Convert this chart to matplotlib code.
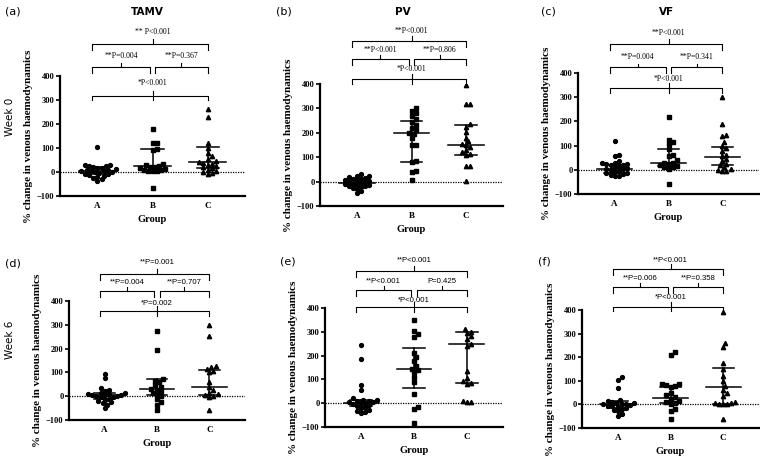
import numpy as np
import matplotlib
matplotlib.use('Agg')
import matplotlib.pyplot as plt

# Data (% change in venous haemodynamics)
groups = ['A', 'B', 'C']

tamv_w0_a = [105, 30, 28, 25, 25, 20, 18, 15, 12, 10, 8, 5, 5, 3, 0, -2, -5, -8, -10, -12, -15, -20, -25, -30, -38]
tamv_w0_b = [180, 122, 120, 95, 90, 35, 30, 25, 22, 20, 15, 12, 10, 8, 5, 5, 3, -65]
tamv_w0_c = [262, 230, 122, 100, 80, 65, 55, 45, 42, 38, 35, 30, 25, 20, 15, 10, 5, 0, -5, -8]
tamv_w0_med = [5, 26, 42]
tamv_w0_q1 = [-10, 8, 15]
tamv_w0_q3 = [20, 96, 104]

pv_w0_a = [30, 25, 22, 20, 15, 12, 10, 8, 5, 3, 0, -2, -5, -8, -10, -12, -15, -18, -20, -22, -25, -30, -40, -48]
pv_w0_b = [300, 290, 280, 268, 255, 245, 232, 220, 210, 200, 195, 180, 150, 150, 85, 80, 45, 40, 5]
pv_w0_c = [395, 320, 318, 235, 222, 205, 180, 165, 155, 150, 140, 130, 120, 112, 108, 65, 65, 2]
pv_w0_med = [-5, 201, 151]
pv_w0_q1 = [-20, 81, 111]
pv_w0_q3 = [10, 247, 234]

vf_w0_a = [120, 60, 55, 35, 30, 28, 25, 22, 20, 18, 15, 12, 8, 5, 2, 0, -5, -8, -12, -15, -18, -20, -25, -25]
vf_w0_b = [220, 125, 115, 105, 85, 60, 55, 40, 30, 28, 25, 20, 15, 12, 10, 5, -60]
vf_w0_c = [300, 190, 145, 140, 115, 100, 92, 78, 62, 55, 45, 35, 25, 20, 10, 5, 0, -5, -5]
vf_w0_med = [5, 28, 53]
vf_w0_q1 = [-15, 15, 20]
vf_w0_q3 = [20, 85, 95]

tamv_w6_a = [95, 75, 35, 28, 22, 15, 12, 10, 8, 5, 5, 3, 0, 0, -3, -5, -10, -15, -20, -25, -30, -35, -50]
tamv_w6_b = [275, 195, 72, 65, 58, 45, 40, 32, 28, 22, 15, 10, 2, -10, -25, -35, -58]
tamv_w6_c = [300, 255, 125, 122, 115, 105, 100, 60, 40, 28, 15, 10, 5, 0, -5, -60]
tamv_w6_med = [5, 29, 38]
tamv_w6_q1 = [-10, 5, 3]
tamv_w6_q3 = [15, 72, 108]

pv_w6_a = [245, 185, 75, 55, 20, 15, 12, 10, 8, 5, 3, 0, 0, -5, -8, -12, -18, -22, -28, -32, -38, -42]
pv_w6_b = [350, 305, 290, 280, 210, 195, 178, 155, 145, 140, 130, 112, 90, 40, -15, -25, -85]
pv_w6_c = [312, 300, 295, 282, 270, 250, 240, 135, 105, 92, 86, 80, 8, 5, 5]
pv_w6_med = [0, 145, 248]
pv_w6_q1 = [-10, 62, 83]
pv_w6_q3 = [15, 234, 298]

vf_w6_a = [115, 105, 70, 20, 15, 12, 8, 5, 3, 0, 0, -3, -5, -8, -12, -15, -20, -25, -30, -42, -50]
vf_w6_b = [220, 210, 85, 85, 82, 80, 75, 50, 40, 30, 25, 15, 10, 5, 0, -20, -30, -60]
vf_w6_c = [390, 262, 245, 175, 148, 120, 100, 78, 62, 48, 35, 10, 5, 5, 0, 0, 2, -60]
vf_w6_med = [0, 28, 73]
vf_w6_q1 = [-15, 5, 0]
vf_w6_q3 = [15, 75, 154]

# p-value labels: [A vs C (top), A vs B, B vs C, overall]
p_tamv_w0 = ['** P<0.001', '**P=0.004', '**P=0.367', '*P<0.001']
p_pv_w0 = ['**P<0.001', '**P<0.001', '**P=0.806', '*P<0.001']
p_vf_w0 = ['**P<0.001', '**P=0.004', '**P=0.341', '*P<0.001']
p_tamv_w6 = ['**P=0.001', '**P=0.004', '**P=0.707', '*P=0.002']
p_pv_w6 = ['**P<0.001', '**P<0.001', 'P=0.425', '*P<0.001']
p_vf_w6 = ['**P<0.001', '**P=0.006', '**P=0.358', '*P<0.001']

W, H = 760, 459
SERIF = 'Liberation Serif'
SANS = 'Liberation Sans'

# panel setup: axes rect in px (left, top, right, bottom), bracket levels, font for p text
panels = [
    dict(lab='(a)', title='TAMV', data=(tamv_w0_a, tamv_w0_b, tamv_w0_c), med=tamv_w0_med, q1=tamv_w0_q1, q3=tamv_w0_q3,
         p=p_tamv_w0, rect=(60, 76, 245, 196), lines=(532, 439, 318), texts=(580, 478, 367), pfont=SERIF,
         labpos=(5, 12), titlepos=(147, 12)),
    dict(lab='(b)', title='PV', data=(pv_w0_a, pv_w0_b, pv_w0_c), med=pv_w0_med, q1=pv_w0_q1, q3=pv_w0_q3,
         p=p_pv_w0, rect=(320, 84, 503, 206), lines=(575, 503, 422), texts=(612, 534, 459), pfont=SERIF,
         labpos=(276, 12), titlepos=(403, 12)),
    dict(lab='(c)', title='VF', data=(vf_w0_a, vf_w0_b, vf_w0_c), med=vf_w0_med, q1=vf_w0_q1, q3=vf_w0_q3,
         p=p_vf_w0, rect=(578, 73, 759, 194), lines=(520, 423, 339), texts=(561, 461, 369), pfont=SERIF,
         labpos=(541, 12), titlepos=(667, 12)),
    dict(lab='(d)', title=None, data=(tamv_w6_a, tamv_w6_b, tamv_w6_c), med=tamv_w6_med, q1=tamv_w6_q1, q3=tamv_w6_q3,
         p=p_tamv_w6, rect=(69, 301, 245, 420), lines=(513, 442, 359), texts=(559, 476, 387), pfont=SANS,
         labpos=(5, 263), titlepos=None),
    dict(lab='(e)', title=None, data=(pv_w6_a, pv_w6_b, pv_w6_c), med=pv_w6_med, q1=pv_w6_q1, q3=pv_w6_q3,
         p=p_pv_w6, rect=(325, 308, 503, 427), lines=(555, 477, 404), texts=(597, 508, 428), pfont=SANS,
         labpos=(280, 262), titlepos=None),
    dict(lab='(f)', title=None, data=(vf_w6_a, vf_w6_b, vf_w6_c), med=vf_w6_med, q1=vf_w6_q1, q3=vf_w6_q3,
         p=p_vf_w6, rect=(582, 310, 759, 428), lines=(574, 499, 414), texts=(606, 530, 450), pfont=SANS,
         labpos=(538, 262), titlepos=None),
]

markers = ['o', 's', '^']
XLIM = (0.32, 3.68)
YLIM = (-100, 400)


def swarm(vals, sx, sy, d):
    # simple beeswarm: place points, sorted by value, at the nearest free x offset
    vals = np.asarray(vals, float)
    offs = np.zeros(len(vals))
    placed = []
    for i in np.argsort(vals):
        y = vals[i] * sy
        k = 0
        while True:
            step = (k + 1) // 2 * (1 if k % 2 else -1) * d * 0.5
            ok = all((step - px) ** 2 + (y - py) ** 2 >= d ** 2 for px, py in placed)
            if ok:
                break
            k += 1
        placed.append((step, y))
        offs[i] = step / sx
    return offs


fig = plt.figure(figsize=(W / 100, H / 100), dpi=100)

for p in panels:
    l, t, r, b = p['rect']
    ax = fig.add_axes([l / W, 1 - b / H, (r - l) / W, (b - t) / H])
    ax.set_xlim(*XLIM)
    ax.set_ylim(*YLIM)
    sx = (r - l) / (XLIM[1] - XLIM[0])
    sy = (b - t) / (YLIM[1] - YLIM[0])

    ax.axhline(0, color='black', lw=0.9, ls=(0, (1, 1)), zorder=1)

    for gi, vals in enumerate(p['data']):
        x = gi + 1
        xs = x + swarm(vals, sx, sy, 4.1)
        ax.plot(xs, vals, ls='none', marker=markers[gi], ms=2.8 if gi < 2 else 3.1,
                color='black', mec='black', zorder=3)
        # median and interquartile range
        ax.plot([x - 0.33, x + 0.33], [p['med'][gi]] * 2, color='black', lw=1.1, zorder=4)
        ax.plot([x, x], [p['q1'][gi], p['q3'][gi]], color='black', lw=1.1, zorder=4)
        ax.plot([x - 0.2, x + 0.2], [p['q1'][gi]] * 2, color='black', lw=1.1, zorder=4)
        ax.plot([x - 0.2, x + 0.2], [p['q3'][gi]] * 2, color='black', lw=1.1, zorder=4)

    # significance brackets
    top, mid, low = p['lines']
    ttop, tmid, tlow = p['texts']
    kw = dict(color='black', lw=0.8, clip_on=False)
    ax.plot([0.91, 0.91, 3, 3], [top - 25, top, top, top - 25], **kw)
    ax.plot([2, 2], [top, top + 22], **kw)
    ax.plot([0.91, 0.91, 1.95, 1.95], [mid - 25, mid, mid, mid - 25], **kw)
    ax.plot([1.43, 1.43], [mid, mid + 15], **kw)
    ax.plot([2.05, 2.05, 3, 3], [mid - 25, mid, mid, mid - 25], **kw)
    ax.plot([2.52, 2.52], [mid, mid + 15], **kw)
    ax.plot([0.91, 0.91, 3, 3], [low - 20, low, low, low - 20], **kw)
    ax.plot([2, 2], [low - 20, low + 20], **kw)

    tk = dict(ha='center', va='bottom', fontsize=5.6, family=p['pfont'], clip_on=False)
    ax.text(2, ttop - 12, p['p'][0], **tk)
    ax.text(1.43, tmid - 12, p['p'][1], **tk)
    ax.text(2.52, tmid - 12, p['p'][2], **tk)
    ax.text(2, tlow - 12, p['p'][3], **tk)

    # axes styling
    for s in ['top', 'right']:
        ax.spines[s].set_visible(False)
    ax.spines['left'].set_linewidth(1.6)
    ax.spines['bottom'].set_linewidth(1.6)
    ax.set_yticks([-100, 0, 100, 200, 300, 400])
    ax.set_xticks([1, 2, 3])
    ax.set_xticklabels(groups)
    ax.tick_params(axis='y', length=3, width=1.2, pad=1, labelsize=6)
    ax.tick_params(axis='x', length=0, pad=4, labelsize=6.5)
    for tl in ax.get_xticklabels() + ax.get_yticklabels():
        tl.set_family(SERIF)
        tl.set_fontweight('bold')
    ax.set_ylabel('% change in venous haemodynamics', family=SERIF, fontweight='bold',
                  fontsize=8, labelpad=3)
    ax.set_xlabel('Group', family=SERIF, fontweight='bold', fontsize=7.5, labelpad=4)

    fig.text(p['labpos'][0] / W, 1 - p['labpos'][1] / H, p['lab'], fontsize=8,
             family='DejaVu Sans', ha='left', va='center')
    if p['title']:
        fig.text(p['titlepos'][0] / W, 1 - p['titlepos'][1] / H, p['title'], fontsize=7.5,
                 family='DejaVu Sans', fontweight='bold', ha='center', va='center')

fig.text(10 / W, 1 - 117 / H, 'Week 0', rotation=90, ha='center', va='center',
         fontsize=7.5, family='DejaVu Sans')
fig.text(10 / W, 1 - 340 / H, 'Week 6', rotation=90, ha='center', va='center',
         fontsize=7.5, family='DejaVu Sans')

fig.savefig('out.png', dpi=100)
